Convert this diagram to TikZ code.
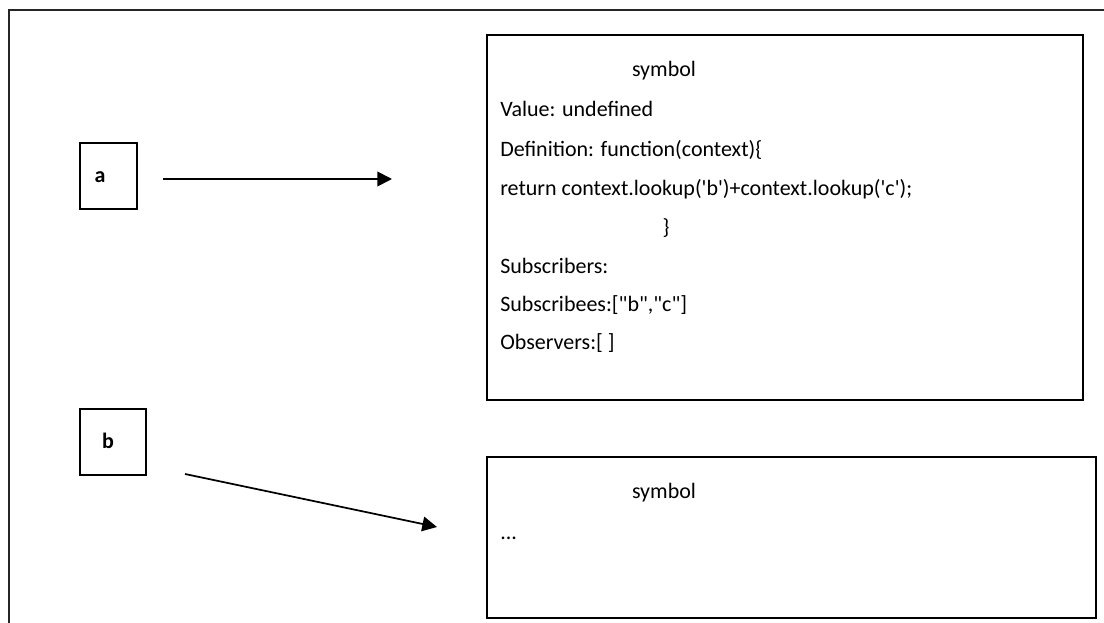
\documentclass[tikz,border=0pt]{standalone}
\usepackage{fontspec}
\setmainfont{Carlito}
\usetikzlibrary{arrows.meta}
\begin{document}
\begin{tikzpicture}[x=0.75pt,y=-0.75pt,
  frame/.style={line width=1.6pt,draw=black!85},
  box/.style={line width=1.2pt,draw=black},
  txt/.style={inner sep=0pt,anchor=base west,font=\fontsize{16.5}{20}\selectfont},
  ctxt/.style={inner sep=0pt,anchor=base,font=\fontsize{16.5}{20}\selectfont},
  lbl/.style={inner sep=0pt,anchor=base,font=\bfseries\fontsize{16.5}{20}\selectfont},
  arr/.style={line width=1.3pt,-{Triangle[length=11pt,width=11pt]}}]
\useasboundingbox (0,0) rectangle (1104,623);
% outer frame (cut off at right and bottom)
\draw[frame] (1110,10) -- (9,10) -- (9,630);
% small boxes
\draw[box] (80,143) rectangle (137,209);
\node[lbl] (a) at (100,183) {a};
\draw[box] (80,409) rectangle (146,475);
\node[lbl] (b) at (108,449) {b};
% symbol boxes
\draw[box] (487,35) rectangle (1083,400);
\draw[box] (487,457) rectangle (1096,618);
% text of box 1
\node[ctxt] (s1) at (664,77) {symbol};
\node[txt] (v1) at (500,117) {Value: undefined};
\node[txt] (d1) at (500,157) {Definition: function(context)\{};
\node[txt] (r1) at (500,196) {return context.lookup(\textquotesingle b\textquotesingle)+context.lookup(\textquotesingle c\textquotesingle);};
\node[ctxt] (c1) at (666,235) {\}};
\node[txt] (sr1) at (500,274) {Subscribers:};
\node[txt] (se1) at (500,312) {Subscribees:[\textquotedbl b\textquotedbl,\textquotedbl c\textquotedbl]};
\node[txt] (o1) at (500,350) {Observers:[ ]};
% text of box 2
\node[ctxt] (s2) at (664,499) {symbol};
\node[txt] (e2) at (500,540) {...};
% arrows
\coordinate (a1) at (163,179);
\coordinate (a2) at (392,179);
\coordinate (b1) at (185,474);
\coordinate (b2) at (437,527);
\draw[arr] (a1) -- (a2);
\draw[arr] (b1) -- (b2);
\end{tikzpicture}
\end{document}
